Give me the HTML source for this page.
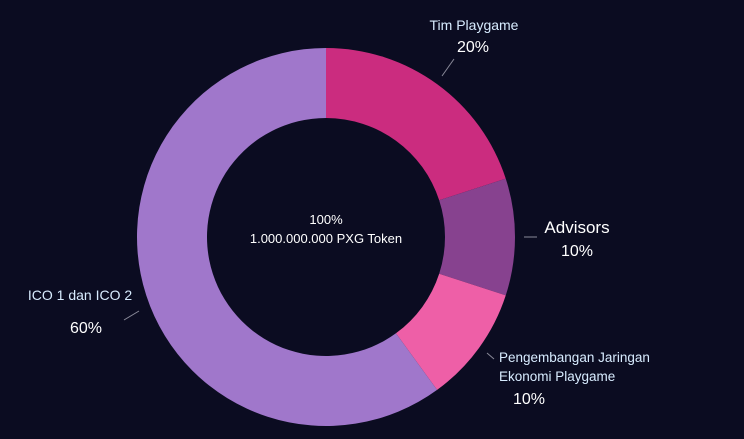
<!DOCTYPE html>
<html><head><meta charset="utf-8"><style>
html,body{margin:0;padding:0;background:#0b0c21;}
svg{display:block;font-family:"Liberation Sans",sans-serif;}
</style></head><body>
<svg width="744" height="439" viewBox="0 0 744 439">
<rect width="744" height="439" fill="#0b0c21"/>
<g id="slices"></g>
<text x="326" y="224" fill="#fff" font-size="13" text-anchor="middle">100%</text>
<text x="326" y="243" fill="#fff" font-size="13" text-anchor="middle">1.000.000.000 PXG Token</text>
<g stroke="#8a8a99" stroke-width="1">
<line x1="442" y1="76" x2="454" y2="59"/>
<line x1="524" y1="237" x2="537" y2="237"/>
<line x1="487" y1="353" x2="494" y2="359"/>
<line x1="124" y1="320" x2="139" y2="311"/>
</g>
<text x="474" y="30" fill="#d8ecff" font-size="14" text-anchor="middle">Tim Playgame</text>
<text x="473" y="52" fill="#fff" font-size="16" text-anchor="middle">20%</text>
<text x="577" y="233" fill="#fff" font-size="17" text-anchor="middle">Advisors</text>
<text x="577" y="256" fill="#fff" font-size="16" text-anchor="middle">10%</text>
<text x="499" y="362" fill="#d8ecff" font-size="13.5">Pengembangan Jaringan</text>
<text x="499" y="381" fill="#d8ecff" font-size="13.5">Ekonomi Playgame</text>
<text x="529" y="404" fill="#fff" font-size="16" text-anchor="middle">10%</text>
<text x="80" y="300" fill="#d8ecff" font-size="14" text-anchor="middle">ICO 1 dan ICO 2</text>
<text x="86" y="333" fill="#fff" font-size="16" text-anchor="middle">60%</text>
</svg>
<script>
const categories = ["Tim Playgame","Advisors","Pengembangan Jaringan Ekonomi Playgame","ICO 1 dan ICO 2"];
const values = [20,10,10,60];
const colors = ["#cb2c7f","#87428f","#ee5fa7","#a077cb"];
const names = ["slice-tim-playgame","slice-advisors","slice-pengembangan","slice-ico"];
const cx=326, cy=237, R=189, r=119;
const g=document.getElementById('slices');
const total=values.reduce((a,b)=>a+b,0);
function pt(rad,a){return [cx+rad*Math.sin(a), cy-rad*Math.cos(a)];}
let start=0;
values.forEach((v,i)=>{
  const end=start+v/total*2*Math.PI;
  const large=(end-start)>Math.PI?1:0;
  const [x1,y1]=pt(R,start),[x2,y2]=pt(R,end),[x3,y3]=pt(r,end),[x4,y4]=pt(r,start);
  const p=document.createElementNS('http://www.w3.org/2000/svg','path');
  p.setAttribute('d',`M${x1},${y1}A${R},${R} 0 ${large} 1 ${x2},${y2}L${x3},${y3}A${r},${r} 0 ${large} 0 ${x4},${y4}Z`);
  p.setAttribute('fill',colors[i]);
  
  
  g.appendChild(p);
  start=end;
});
</script>
</body></html>
